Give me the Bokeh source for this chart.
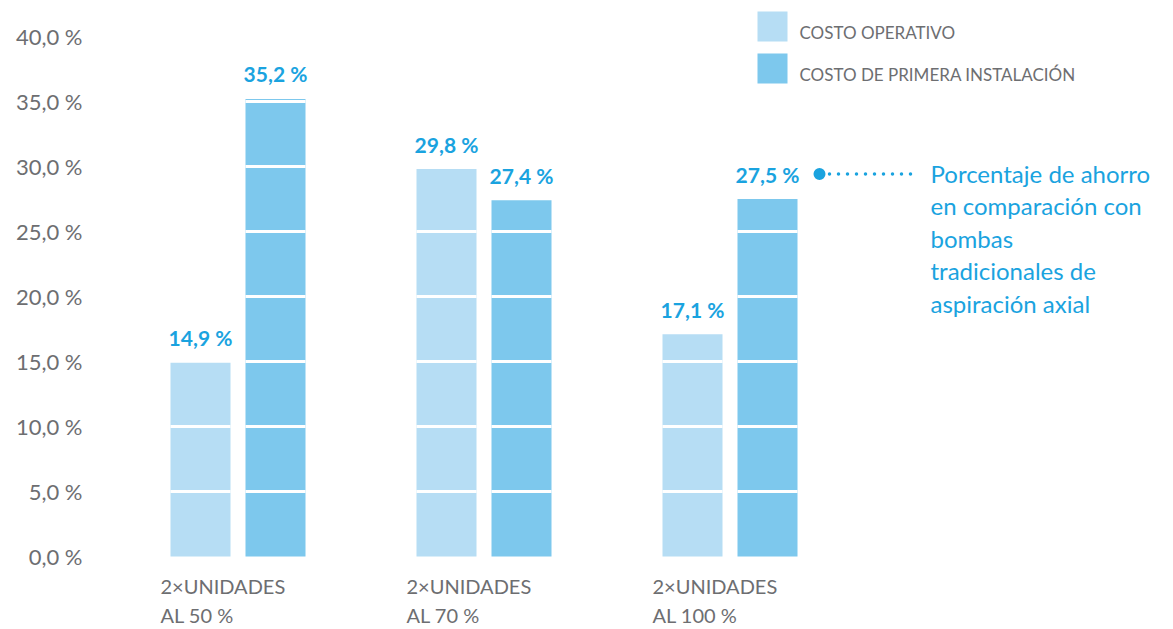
from bokeh.plotting import figure
from bokeh.models import Range1d, FixedTicker
from bokeh.core.properties import value
from bokeh.embed import file_html
from bokeh.resources import INLINE

# ---- data ----
categories = ["2×UNIDADES\nAL 50 %", "2×UNIDADES\nAL 70 %", "2×UNIDADES\nAL 100 %"]
series_names = ["COSTO OPERATIVO", "COSTO DE PRIMERA INSTALACIÓN"]
costo_operativo = [14.9, 29.8, 17.1]
costo_instalacion = [35.2, 27.4, 27.5]
y_ticks = [0, 5, 10, 15, 20, 25, 30, 35, 40]
y_tick_labels = ["0,0 %", "5,0 %", "10,0 %", "15,0 %", "20,0 %", "25,0 %", "30,0 %", "35,0 %", "40,0 %"]
annotation_text = "Porcentaje de ahorro\nen comparación con\nbombas\ntradicionales de\naspiración axial"

# ---- style ----
FONT = "Lato"
GRAY = "#6d6e71"
CYAN = "#1aa3df"
LIGHT = "#b6ddf4"
DARK = "#7dc8ed"
PX = 246.0   # px per x unit
PY = 13.0    # px per y unit
X0 = 237.5   # page x of first group centre
Y0 = 556.0   # page y of baseline

W, H = 1170, 628
LEFT = 100
p = figure(width=W, height=H, output_backend="svg", toolbar_location=None,
           x_range=Range1d((LEFT - X0) / PX, (W - X0) / PX),
           y_range=Range1d((Y0 - H) / PY, Y0 / PY),
           x_axis_location=None, min_border_left=LEFT, min_border_right=0,
           min_border_top=0, min_border_bottom=0)
p.outline_line_color = None
p.grid.visible = False
p.background_fill_color = "white"
p.border_fill_color = "white"

ax = p.yaxis[0]
ax.ticker = FixedTicker(ticks=y_ticks)
ax.major_label_overrides = {t: l for t, l in zip(y_ticks, y_tick_labels)}
ax.axis_line_color = None
ax.major_tick_line_color = None
ax.minor_tick_line_color = None
ax.major_label_standoff = 12
ax.major_label_text_font = FONT
ax.major_label_text_font_size = "22px"
ax.major_label_text_color = GRAY

n = len(categories)
bw = 60 / PX
off = 37.5 / PX
xs_l = [i - off for i in range(n)]
xs_d = [i + off for i in range(n)]

p.vbar(x=xs_l, top=costo_operativo, bottom=0, width=bw, fill_color=LIGHT, line_color=None)
p.vbar(x=xs_d, top=costo_instalacion, bottom=0, width=bw, fill_color=DARK, line_color=None)

# white separators at each 5-unit step inside bars
sx0, sx1, sy = [], [], []
for xs, vals in ((xs_l, costo_operativo), (xs_d, costo_instalacion)):
    for x, v in zip(xs, vals):
        for t in y_ticks:
            if 0 < t < v:
                sx0.append(x - bw / 2)
                sx1.append(x + bw / 2)
                sy.append(t)
p.segment(x0=sx0, y0=sy, x1=sx1, y1=sy, line_color="white", line_width=3)

def fmt(v):
    return f"{v:.1f}".replace(".", ",") + " %"

for xs, vals in ((xs_l, costo_operativo), (xs_d, costo_instalacion)):
    p.text(x=xs, y=vals, text=[fmt(v) for v in vals], text_align="center",
           text_baseline="middle", y_offset=-25, text_font=value(FONT),
           text_font_style="bold", text_font_size="21px", text_color=CYAN)

# category labels
line1 = [c.split("\n")[0] for c in categories]
line2 = [c.split("\n")[1] for c in categories]
cx = [i - 77.5 / PX for i in range(n)]
p.text(x=cx, y=[-29 / PY] * n, text=line1, text_align="left", text_baseline="middle",
       text_font=value(FONT), text_font_size="20px", text_color=GRAY)
p.text(x=cx, y=[-58 / PY] * n, text=line2, text_align="left", text_baseline="middle",
       text_font=value(FONT), text_font_size="20px", text_color=GRAY)

# legend
lx = (772 - X0) / PX
ly = [(Y0 - 26) / PY, (Y0 - 68) / PY]
p.scatter(x=[lx, lx], y=ly, marker="square", size=30, fill_color=[LIGHT, DARK], line_color=None)
p.text(x=[lx + 27 / PX] * 2, y=[v - 6 / PY for v in ly], text=series_names, text_align="left",
       text_baseline="middle", text_font=value(FONT), text_font_size="17px", text_color=GRAY)

# annotation
ay = costo_instalacion[2] + 25 / PY
dot_x = n - 1 + (819 - 729.5) / PX
p.line(x=[dot_x + 10 / PX, dot_x + 96 / PX], y=[ay, ay], line_color=CYAN, line_width=3.5,
       line_dash="0 9", line_cap="round")
p.scatter(x=[dot_x], y=[ay], marker="circle", size=12, fill_color=CYAN, line_color=None)
p.text(x=[dot_x + 111 / PX], y=[ay + 15 / PY], text=[annotation_text], text_align="left",
       text_baseline="top", text_line_height=1.12, text_font=value(FONT),
       text_font_size="24px", text_color=CYAN)

open("out.html", "w").write(file_html(p, INLINE))
